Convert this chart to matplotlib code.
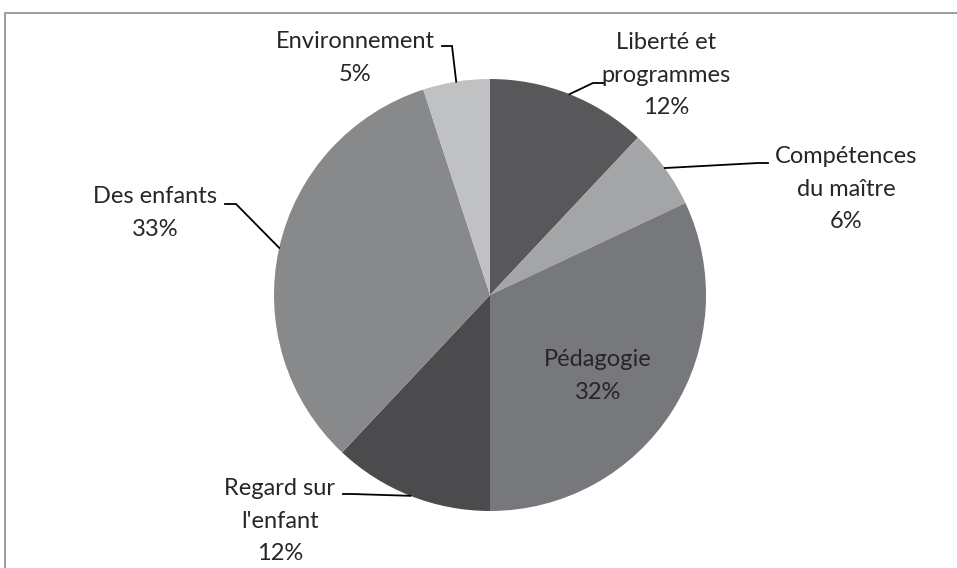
import numpy as np
import matplotlib.pyplot as plt
from matplotlib.patches import Rectangle

# données
categories = ["Liberté et\nprogrammes", "Compétences\ndu maître", "Pédagogie",
              "Regard sur\nl'enfant", "Des enfants", "Environnement"]
valeurs = [12, 6, 32, 12, 33, 5]
couleurs = ["#58585a", "#a4a5a7", "#77787b", "#4b4b4d", "#88898b", "#c0c1c3"]

# mise en page (pixels de l'image, y vers le bas)
CX, CY, R = 490, 295, 216
pos_texte = [(666, 75), (846, 189), (598, 376), (280, 521), (155, 213), (355, 58)]
# début du trait (côté texte) et coude ; None = étiquette dans la part
traits = [((604, 83), (593, 83)), ((768, 163), (758, 163)), None,
          ((343, 494), (352, 494)), ((225, 204), (236, 204)), ((442, 46), (452, 46))]

plt.rcParams["font.family"] = ["Lato", "DejaVu Sans"]

fig = plt.figure(figsize=(9.57, 5.68), dpi=100)
ax = fig.add_axes([0, 0, 1, 1])

# cadre gris
fig.patches.append(Rectangle((5 / 957, -10 / 568), 1.0, 1 - 13 / 568 + 10 / 568,
                             transform=fig.transFigure, fill=False,
                             edgecolor="#8c8c8c", linewidth=1.2))

wedges, _ = ax.pie(valeurs, colors=couleurs, startangle=90, counterclock=False,
                   center=(CX, -CY), radius=R, frame=True)
ax.set_xlim(0, 957)
ax.set_ylim(-568, 0)
ax.set_aspect("equal")
ax.axis("off")

for w, cat, val, (tx, ty), tr in zip(wedges, categories, valeurs, pos_texte, traits):
    ax.text(tx, -ty, f"{cat}\n{val}%", ha="center", va="center",
            fontsize=17, color="#262626", linespacing=1.65)
    if tr is None:
        continue
    mid = np.deg2rad((w.theta1 + w.theta2) / 2)
    bx, by = CX + R * np.cos(mid), -CY + R * np.sin(mid)
    (sx, sy), (ex, ey) = tr
    ax.plot([sx, ex, bx], [-sy, -ey, by], color="black", lw=1.3,
            solid_joinstyle="miter")

plt.savefig("out.png", dpi=100)
